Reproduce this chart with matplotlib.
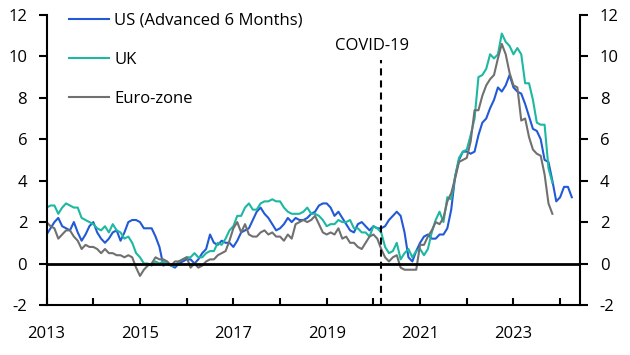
import numpy as np
import matplotlib.pyplot as plt

plt.rcParams['font.family'] = ['Open Sans', 'DejaVu Sans']
plt.rcParams['axes.unicode_minus'] = False

# inflation, % y/y, monthly from Jan 2013
us = [1.4, 1.7, 2.0, 2.2, 1.8, 1.7, 1.6, 2.0, 1.5, 1.1, 1.4, 1.8,
      2.0, 1.5, 1.2, 1.0, 1.2, 1.5, 1.6, 1.1, 1.5, 2.0, 2.1, 2.1,
      2.0, 1.7, 1.7, 1.7, 1.3, 0.8, -0.1, 0.0, -0.1, -0.2, 0.0, 0.1,
      0.2, 0.2, 0.0, 0.2, 0.5, 0.7, 1.4, 1.0, 0.9, 1.1, 1.0, 1.0,
      0.8, 1.1, 1.5, 1.6, 1.7, 2.1, 2.5, 2.7, 2.4, 2.2, 1.9, 1.6,
      1.7, 1.9, 2.2, 2.0, 2.2, 2.1, 2.1, 2.2, 2.4, 2.5, 2.8, 2.9,
      2.9, 2.7, 2.3, 2.5, 2.2, 1.9, 1.6, 1.5, 1.9, 2.0, 1.8, 1.6,
      1.8, 1.7, 1.7, 1.8, 2.1, 2.3, 2.5, 2.3, 1.5, 0.3, 0.1, 0.6,
      1.0, 1.3, 1.4, 1.2, 1.2, 1.4, 1.4, 1.7, 2.6, 4.2, 5.0, 5.4,
      5.4, 5.3, 5.4, 6.2, 6.8, 7.0, 7.5, 7.9, 8.5, 8.3, 8.6, 9.1,
      8.5, 8.3, 8.2, 7.7, 7.1, 6.5, 6.4, 6.0, 5.0, 4.9, 4.0, 3.0,
      3.2, 3.7, 3.7, 3.2]

uk = [2.7, 2.8, 2.8, 2.4, 2.7, 2.9, 2.8, 2.7, 2.7, 2.2, 2.1, 2.0,
      1.9, 1.7, 1.6, 1.8, 1.5, 1.9, 1.6, 1.5, 1.2, 1.3, 1.0, 0.5,
      0.3, 0.0, 0.0, -0.1, 0.1, 0.0, 0.1, 0.0, -0.1, -0.1, 0.1, 0.2,
      0.3, 0.3, 0.5, 0.3, 0.3, 0.5, 0.6, 0.6, 1.0, 0.9, 1.2, 1.6,
      1.8, 2.3, 2.3, 2.7, 2.9, 2.6, 2.6, 2.9, 3.0, 3.0, 3.1, 3.0,
      3.0, 2.7, 2.5, 2.4, 2.4, 2.4, 2.5, 2.7, 2.4, 2.4, 2.3, 2.1,
      1.8, 1.9, 1.9, 2.1, 2.0, 2.0, 2.1, 1.7, 1.7, 1.5, 1.5, 1.3,
      1.8, 1.7, 1.5, 0.8, 0.5, 0.6, 1.0, 0.2, 0.5, 0.7, 0.3, 0.6,
      0.7, 0.4, 0.7, 1.5, 2.1, 2.5, 2.0, 3.2, 3.1, 4.2, 5.1, 5.4,
      5.5, 6.2, 7.0, 9.0, 9.1, 9.4, 10.1, 9.9, 10.1, 11.1, 10.7, 10.5,
      10.1, 10.4, 10.1, 8.7, 8.7, 7.9, 6.8, 6.7, 6.7, 4.6, 3.9]

ez = [2.0, 1.8, 1.7, 1.2, 1.4, 1.6, 1.6, 1.3, 1.1, 0.7, 0.9, 0.8,
      0.8, 0.7, 0.5, 0.7, 0.5, 0.5, 0.4, 0.4, 0.3, 0.4, 0.3, -0.2,
      -0.6, -0.3, -0.1, 0.0, 0.3, 0.2, 0.2, 0.1, -0.1, 0.1, 0.1, 0.2,
      0.3, -0.2, 0.0, -0.2, -0.1, 0.1, 0.2, 0.2, 0.4, 0.5, 0.6, 1.1,
      1.7, 2.0, 1.5, 1.9, 1.4, 1.3, 1.3, 1.5, 1.6, 1.4, 1.5, 1.3,
      1.3, 1.1, 1.4, 1.2, 1.9, 2.0, 2.1, 2.0, 2.1, 2.3, 1.9, 1.5,
      1.4, 1.5, 1.4, 1.7, 1.2, 1.3, 1.0, 1.0, 0.8, 0.7, 1.0, 1.3,
      1.4, 1.2, 0.7, 0.3, 0.1, 0.3, 0.4, -0.2, -0.3, -0.3, -0.3, -0.3,
      0.9, 0.9, 1.3, 1.6, 2.0, 1.9, 2.2, 3.0, 3.4, 4.1, 4.9, 5.0,
      5.1, 5.9, 7.4, 7.4, 8.1, 8.6, 8.9, 9.1, 9.9, 10.6, 10.1, 9.2,
      8.6, 8.5, 6.9, 7.0, 6.1, 5.5, 5.3, 5.2, 4.3, 2.9, 2.4]

labels = ['US (Advanced 6 Months)', 'UK', 'Euro-zone']
colors = ['#2159d6', '#1db8a1', '#707070']
covid = 2020 + 2 / 12

fig = plt.figure(figsize=(6.3, 3.55), dpi=100)
ax = fig.add_axes([0.074, 0.141, 0.847, 0.817])

for vals, lab, col in zip([us, uk, ez], labels, colors):
    t = 2013 + np.arange(len(vals)) / 12
    ax.plot(t, vals, color=col, lw=1.5, label=lab)

ax.axhline(0, color='black', lw=2)
ax.plot([covid, covid], [-2, 9.8], color='black', lw=1.5, ls=(0, (3.4, 2.4)))
ax.text(covid - 0.2, 10.5, 'COVID-19', ha='center', va='center', fontsize=12)

ax.set_xlim(2013, 2024.43)
ax.set_ylim(-2, 12)
ax.set_yticks(range(-2, 13, 2))
ax.set_xticks(range(2013, 2025))
ax.set_xticklabels([str(y) if y % 2 else '' for y in range(2013, 2025)])
ax.tick_params(axis='x', direction='in', length=5, width=1.5, pad=15, labelsize=12)
ax.tick_params(axis='y', direction='out', length=6, width=1.5, pad=8, labelsize=12)

ax2 = ax.twinx()
ax2.set_ylim(-2, 12)
ax2.set_yticks(range(-2, 13, 2))
ax2.tick_params(axis='y', direction='out', length=6, width=1.5, pad=8, labelsize=12)

for a in (ax, ax2):
    a.spines['top'].set_visible(False)
    for s in a.spines.values():
        s.set_linewidth(1.5)
ax.spines['right'].set_visible(False)
ax2.spines['left'].set_visible(False)
ax2.spines['bottom'].set_visible(False)

ax.legend(loc='upper left', bbox_to_anchor=(0.03, 1.03), frameon=False,
          handlelength=2.4, handletextpad=0.3, labelspacing=1.38, fontsize=12,
          borderaxespad=0)

fig.savefig('out.png', dpi=100)
